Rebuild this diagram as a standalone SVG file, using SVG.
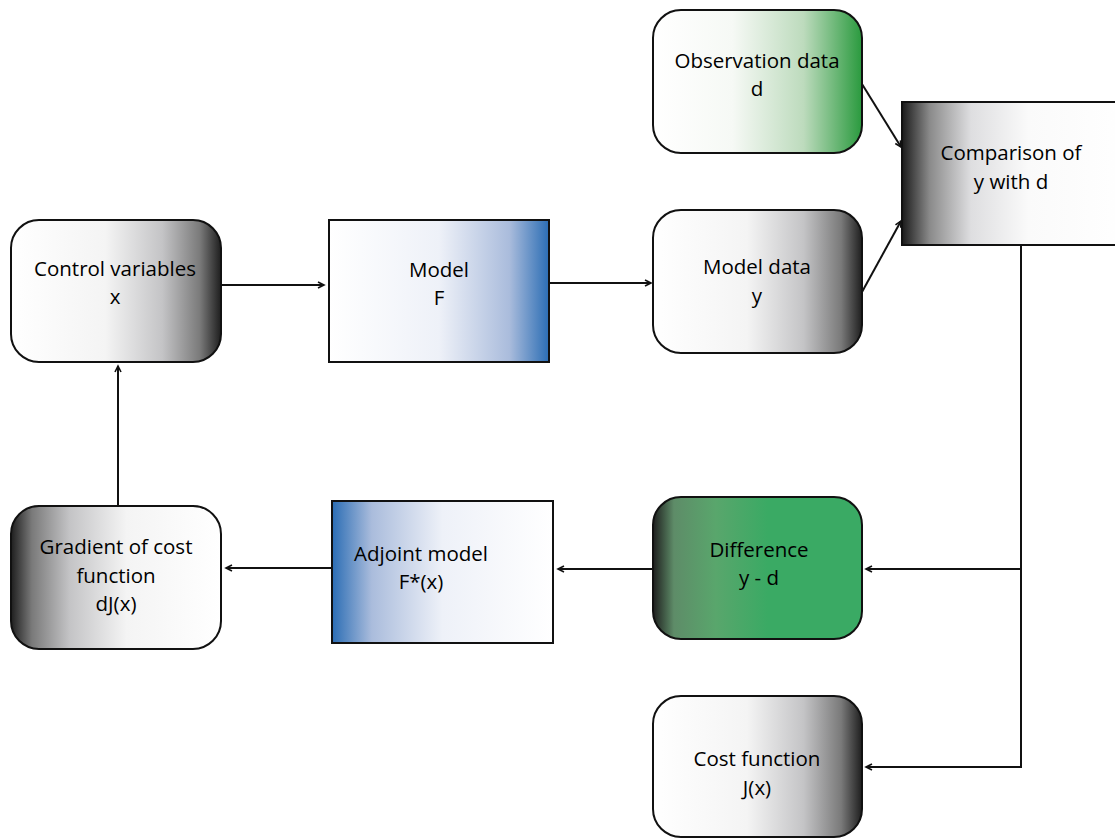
<svg xmlns="http://www.w3.org/2000/svg" width="1115" height="838" viewBox="0 0 1115 838">
<defs>
<linearGradient id="gR" x1="0" y1="0" x2="1" y2="0">
<stop offset="0" stop-color="#ffffff"/><stop offset="0.45" stop-color="#f4f4f4"/><stop offset="0.72" stop-color="#c4c4c6"/><stop offset="0.9" stop-color="#7a7a7a"/><stop offset="1" stop-color="#1e1e1e"/>
</linearGradient>
<linearGradient id="gL" x1="1" y1="0" x2="0" y2="0">
<stop offset="0" stop-color="#ffffff"/><stop offset="0.45" stop-color="#f4f4f4"/><stop offset="0.72" stop-color="#c4c4c6"/><stop offset="0.9" stop-color="#7a7a7a"/><stop offset="1" stop-color="#1e1e1e"/>
</linearGradient>
<linearGradient id="gCmp" x1="0" y1="0" x2="1" y2="0">
<stop offset="0" stop-color="#1a1a1a"/><stop offset="0.12" stop-color="#8a8a8a"/><stop offset="0.3" stop-color="#dedee0"/><stop offset="0.55" stop-color="#fafafa"/><stop offset="1" stop-color="#ffffff"/>
</linearGradient>
<linearGradient id="gBlueR" x1="0" y1="0" x2="1" y2="0">
<stop offset="0" stop-color="#ffffff"/><stop offset="0.5" stop-color="#eef1f8"/><stop offset="0.82" stop-color="#aabcdc"/><stop offset="1" stop-color="#2b6db4"/>
</linearGradient>
<linearGradient id="gBlueL" x1="1" y1="0" x2="0" y2="0">
<stop offset="0" stop-color="#ffffff"/><stop offset="0.5" stop-color="#eef1f8"/><stop offset="0.82" stop-color="#aabcdc"/><stop offset="1" stop-color="#2b6db4"/>
</linearGradient>
<linearGradient id="gGreenR" x1="0" y1="0" x2="1" y2="0">
<stop offset="0" stop-color="#ffffff"/><stop offset="0.38" stop-color="#f6f9f5"/><stop offset="0.72" stop-color="#bddbbd"/><stop offset="1" stop-color="#2a9a3e"/>
</linearGradient>
<linearGradient id="gDiff" x1="0" y1="0" x2="1" y2="0">
<stop offset="0" stop-color="#1e1e1e"/><stop offset="0.1" stop-color="#5e8c68"/><stop offset="0.3" stop-color="#59a66c"/><stop offset="0.55" stop-color="#3aaa64"/><stop offset="1" stop-color="#3aaa64"/>
</linearGradient>
<marker id="arr" markerWidth="10" markerHeight="10" refX="7" refY="4" orient="auto" markerUnits="userSpaceOnUse">
<path d="M1,1 L7,4 L1,7" fill="none" stroke="#111" stroke-width="1.6"/>
</marker>
</defs>
<style>
.box{stroke:#111;stroke-width:2}
.t{font-family:"Open Sans","Noto Sans",sans-serif;font-size:20.5px;fill:#000;text-anchor:middle}
.c{fill:none;stroke:#111;stroke-width:2}
</style>
<rect width="1115" height="838" fill="#ffffff"/>

<g id="connectors">
<line class="c" x1="221" y1="285" x2="324" y2="285" marker-end="url(#arr)"/>
<line class="c" x1="549" y1="283" x2="651" y2="283" marker-end="url(#arr)"/>
<line class="c" x1="862" y1="84" x2="901" y2="147" marker-end="url(#arr)"/>
<line class="c" x1="862" y1="292" x2="901" y2="221" marker-end="url(#arr)"/>
<polyline class="c" points="1021,245 1021,767 866,767" marker-end="url(#arr)"/>
<line class="c" x1="1021" y1="569" x2="866" y2="569" marker-end="url(#arr)"/>
<line class="c" x1="653" y1="569" x2="558" y2="569" marker-end="url(#arr)"/>
<line class="c" x1="332" y1="568" x2="226" y2="568" marker-end="url(#arr)"/>
<line class="c" x1="118" y1="506" x2="118" y2="366" marker-end="url(#arr)"/>
</g>

<g id="observation">
<rect class="box" x="653" y="10" width="209" height="143" rx="28" fill="url(#gGreenR)"/>
<text class="t" x="757" y="68">Observation data</text>
<text class="t" x="757" y="96">d</text>
</g>

<g id="comparison">
<rect class="box" x="902" y="102" width="230" height="143" fill="url(#gCmp)"/>
<text class="t" x="1011" y="160">Comparison of</text>
<text class="t" x="1011" y="189">y with d</text>
</g>

<g id="modeldata">
<rect class="box" x="653" y="210" width="209" height="143" rx="28" fill="url(#gR)"/>
<text class="t" x="757" y="274">Model data</text>
<text class="t" x="757" y="303">y</text>
</g>

<g id="control">
<rect class="box" x="11" y="220" width="210" height="142" rx="28" fill="url(#gR)"/>
<text class="t" x="115" y="276">Control variables</text>
<text class="t" x="115" y="304">x</text>
</g>

<g id="model">
<rect class="box" x="329" y="220" width="220" height="142" fill="url(#gBlueR)"/>
<text class="t" x="439" y="277">Model</text>
<text class="t" x="439" y="305">F</text>
</g>

<g id="difference">
<rect class="box" x="653" y="497" width="209" height="142" rx="28" fill="url(#gDiff)"/>
<text class="t" x="759" y="557">Difference</text>
<text class="t" x="759" y="585">y - d</text>
</g>

<g id="adjoint">
<rect class="box" x="332" y="501" width="221" height="142" fill="url(#gBlueL)"/>
<text class="t" x="421" y="561">Adjoint model</text>
<text class="t" x="421" y="589">F*(x)</text>
</g>

<g id="gradient">
<rect class="box" x="11" y="506" width="210" height="143" rx="28" fill="url(#gL)"/>
<text class="t" x="116" y="554">Gradient of cost</text>
<text class="t" x="116" y="583">function</text>
<text class="t" x="116" y="611">dJ(x)</text>
</g>

<g id="cost">
<rect class="box" x="653" y="696" width="209" height="141" rx="28" fill="url(#gR)"/>
<text class="t" x="757" y="766">Cost function</text>
<text class="t" x="757" y="795">J(x)</text>
</g>
</svg>
